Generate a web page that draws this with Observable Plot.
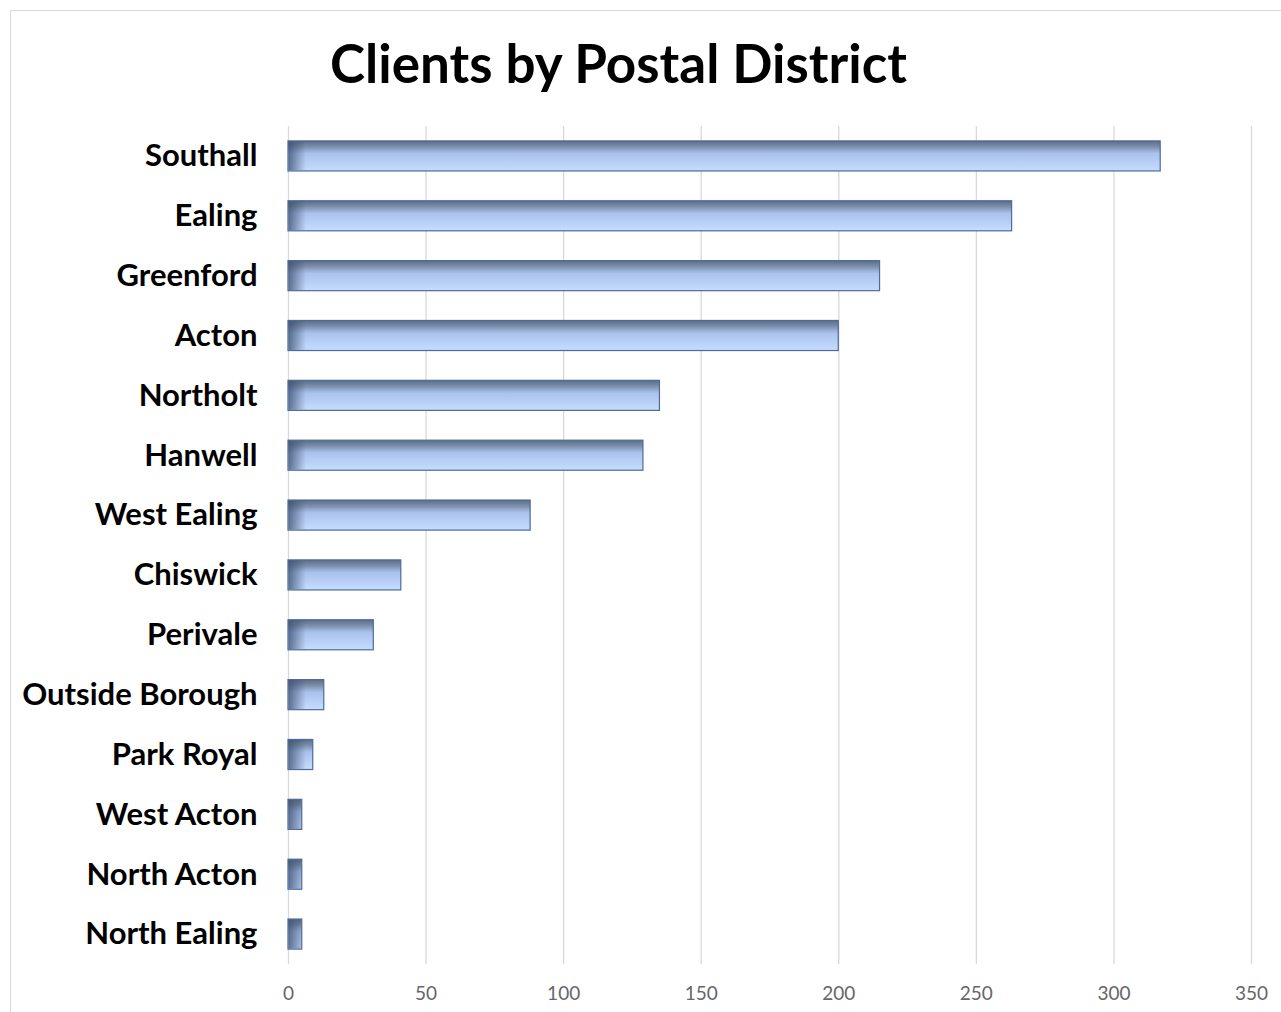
<!DOCTYPE html>
<html>
<head>
<meta charset="utf-8">
<script src="https://cdn.jsdelivr.net/npm/d3@7"></script>
<script src="https://cdn.jsdelivr.net/npm/@observablehq/plot@0.6"></script>
<style>
  html, body { margin: 0; padding: 0; background: #fff; }
  #wrap { position: relative; width: 1281px; height: 1012px; overflow: hidden; }
  #frame { position: absolute; left: 10px; top: 10px; width: 1290px; height: 1020px; border: 1px solid #d9d9d9; box-sizing: border-box; }
  #title { position: absolute; left: 0; top: 30px; width: 1237px; text-align: center;
           font-family: Lato, "Open Sans", sans-serif; font-weight: 700; font-size: 53px; color: #000; line-height: 66px; }
  #chart { position: absolute; left: 0; top: 0; }
</style>
</head>
<body>
<div id="wrap">
  <div id="frame"></div>
  <div id="chart"></div>
  <div id="title">Clients by Postal District</div>
</div>
<script>
const districts = ["Southall", "Ealing", "Greenford", "Acton", "Northolt", "Hanwell", "West Ealing",
  "Chiswick", "Perivale", "Outside Borough", "Park Royal", "West Acton", "North Acton", "North Ealing"];
const clients = [317, 263, 215, 200, 135, 129, 88, 41, 31, 13, 9, 5, 5, 5];
const xTicks = [0, 50, 100, 150, 200, 250, 300, 350];

const data = districts.map((d, i) => ({district: d, clients: clients[i]}));

const defs = () => {
  const g = d3.create("svg:defs");
  const v = g.append("linearGradient").attr("id", "barV").attr("x1", 0).attr("y1", 0).attr("x2", 0).attr("y2", 1);
  v.append("stop").attr("offset", "0%").attr("stop-color", "#5c6d85");
  v.append("stop").attr("offset", "18%").attr("stop-color", "#788ba8");
  v.append("stop").attr("offset", "42%").attr("stop-color", "#aac2ec");
  v.append("stop").attr("offset", "100%").attr("stop-color", "#c6dcff");
  const h = g.append("linearGradient").attr("id", "barH").attr("gradientUnits", "userSpaceOnUse")
    .attr("x1", 288).attr("y1", 0).attr("x2", 306).attr("y2", 0);
  h.append("stop").attr("offset", "0%").attr("stop-color", "#3d5270").attr("stop-opacity", 0.8);
  h.append("stop").attr("offset", "100%").attr("stop-color", "#3d5270").attr("stop-opacity", 0);
  return g.node();
};

const plot = Plot.plot({
  width: 1281,
  height: 1012,
  marginLeft: 288,
  marginRight: 30,
  marginTop: 126,
  marginBottom: 48,
  style: {fontFamily: "Lato, 'Open Sans', sans-serif", background: "transparent", overflow: "visible"},
  x: {domain: [0, 350], ticks: xTicks, label: null},
  y: {domain: districts, padding: 0, round: false, label: null},
  marks: [
    defs,
    Plot.gridX(xTicks, {stroke: "#d9d9d9", strokeOpacity: 1, strokeWidth: 1.3}),
    Plot.axisX(xTicks, {tickSize: 0, tickPadding: 22, fontSize: 19, fill: "#666", label: null}),
    Plot.axisY({tickSize: 0, tickPadding: 31, fontSize: 31, fontWeight: 700, fill: "#000", label: null}),
    Plot.barX(data, {x: "clients", y: "district", fill: "url(#barV)", stroke: "#4c6b9c", strokeWidth: 1.2, insetTop: 14.9, insetBottom: 14.9}),
    Plot.barX(data, {x: "clients", y: "district", fill: "url(#barH)", insetTop: 15.5, insetBottom: 15.5, insetLeft: 0.6, insetRight: 0.6})
  ]
});
document.getElementById("chart").appendChild(plot);
</script>
</body>
</html>
